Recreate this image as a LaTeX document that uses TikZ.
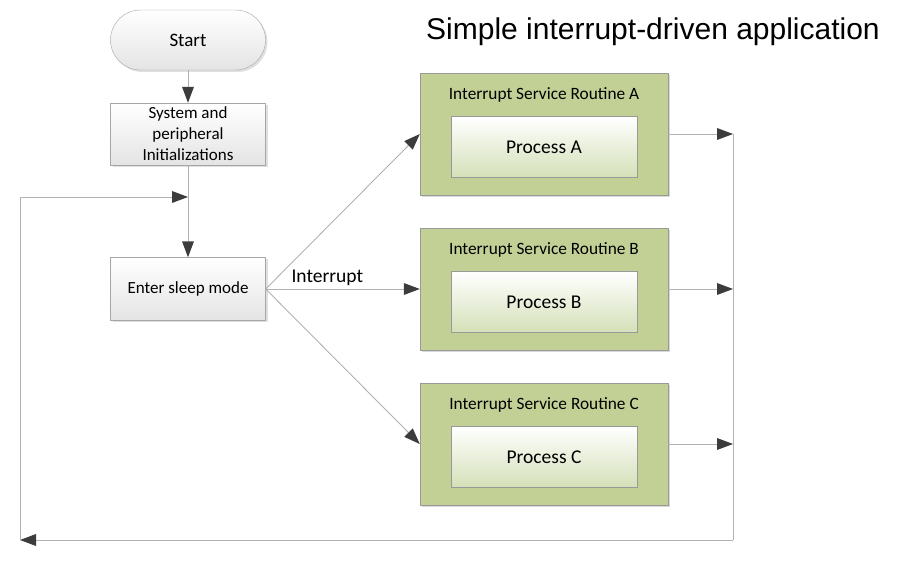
\documentclass[tikz,border=0pt]{standalone}
\usepackage{fontspec}
\setmainfont{Carlito}
\newfontfamily\titlefont{Liberation Sans}
\usetikzlibrary{arrows.meta,shadows}
\definecolor{isrgreen}{RGB}{194,208,150}
\definecolor{procgreen}{RGB}{212,224,184}
\definecolor{boxgray}{RGB}{228,228,228}
\definecolor{tipgray}{RGB}{60,60,60}

\begin{document}
\begin{tikzpicture}[x=1pt, y=-1pt,
  flowbox/.style={draw=gray!70, top color=white, bottom color=boxgray, minimum width=155pt, minimum height=62pt, inner sep=2pt, align=center, font=\fontsize{17}{21}\selectfont, drop shadow={shadow xshift=2pt, shadow yshift=-2pt, opacity=0.25}},
  isr/.style={draw=gray!80, fill=isrgreen, minimum width=248pt, minimum height=122pt, drop shadow={shadow xshift=2pt, shadow yshift=-2pt, opacity=0.3}},
  proc/.style={draw=gray!80, top color=white, bottom color=procgreen, minimum width=186pt, minimum height=61pt, font=\fontsize{19.5}{23}\selectfont},
  isrlabel/.style={font=\fontsize{17.3}{20}\selectfont},
  flow/.style={draw=gray!60, line width=0.9pt, -{Triangle[length=16pt, width=12pt, line width=0pt, tipgray]}},
  line/.style={draw=gray!60, line width=0.9pt}
]
\useasboundingbox (0,0) rectangle (897,561);

% --------- LEFT FLOW ----------
\node[flowbox, rounded corners=30pt, minimum height=60pt, font=\fontsize{19}{23}\selectfont] (start) at (188,40) {Start};
\node[flowbox] (init) at (188,134) {System and\\peripheral\\Initializations};
\node[flowbox, minimum height=63pt] (sleep) at (188,289) {Enter sleep mode};

\coordinate (join) at (188,197);
\coordinate (loopL) at (20,197);
\coordinate (loopBL) at (20,540);
\coordinate (loopBR) at (733,540);

% --------- INTERRUPT SERVICE ROUTINES ----------
\foreach \name/\y in {A/134, B/289, C/444} {
  \node[isr] (isr\name) at (544,\y) {};
  \node[isrlabel] (isrlab\name) at (544,\y-39) {Interrupt Service Routine \name};
  \node[proc] (proc\name) at (544,\y+13) {Process \name};
  \coordinate (out\name) at (733,\y);
}

% title
\node[font=\titlefont\fontsize{30}{36}\selectfont] (title) at (653,32) {Simple interrupt-driven application};

% --------- CONNECTORS ----------
\draw[flow] (start) -- (init);
\draw[line] (init) -- (join);
\draw[flow] (join) -- (sleep);

\draw[flow] (sleep.east) -- (isrA.west);
\draw[flow] (sleep.east) -- node[pos=0.4, above, font=\fontsize{19.5}{23}\selectfont, text=black] (intlab) {Interrupt} (isrB.west);
\draw[flow] (sleep.east) -- (isrC.west);

\draw[flow] (isrA.east) -- (outA);
\draw[flow] (isrB.east) -- (outB);
\draw[flow] (isrC.east) -- (outC);

\draw[line] (outA) -- (loopBR);
\draw[flow] (loopBR) -- (loopBL);
\draw[line] (loopBL) -- (loopL);
\draw[flow] (loopL) -- (join);

\end{tikzpicture}
\end{document}
